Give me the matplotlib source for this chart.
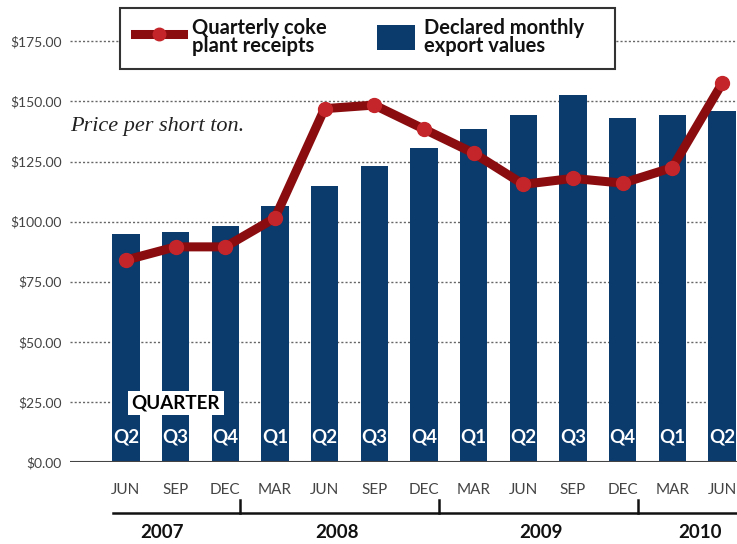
import matplotlib
matplotlib.use("Agg")
import matplotlib.pyplot as plt
from matplotlib.patches import Rectangle
from matplotlib.lines import Line2D
import matplotlib.transforms as mtransforms

# Data (price per short ton, $)
months = ["JUN", "SEP", "DEC", "MAR", "JUN", "SEP", "DEC",
          "MAR", "JUN", "SEP", "DEC", "MAR", "JUN"]
quarters = ["Q2", "Q3", "Q4", "Q1", "Q2", "Q3", "Q4",
            "Q1", "Q2", "Q3", "Q4", "Q1", "Q2"]
export_values = [95, 95.5, 98, 106.5, 115, 123, 130.5,
                 138.5, 144.5, 152.5, 143, 144.5, 146]
coke_receipts = [84, 89.5, 89.5, 101.5, 147, 148.5, 138.5,
                 128.5, 115.5, 118, 116, 122.5, 157.5]
years = ["2007", "2008", "2009", "2010"]
year_label_pos = [0.72, 4.25, 8.35, 11.55]
year_breaks = [2.3, 6.3, 10.3]
y_ticks = [0, 25, 50, 75, 100, 125, 150, 175]

navy = "#0b3a6c"
dark_red = "#8a0c0e"
marker_red = "#c4252a"
cond = ["Liberation Sans Narrow", "Lato", "DejaVu Sans"]

fig = plt.figure(figsize=(7.37, 5.44), dpi=100)
ax = fig.add_axes([70 / 737, 1 - 462 / 544, 1 - 70 / 737, 462 / 544])

x = list(range(len(months)))

# grid
for v in y_ticks[1:]:
    ax.axhline(v, color="#666666", lw=1.0, ls=(0, (1.5, 1.5)), zorder=0)
ax.axhline(0, color="#444444", lw=1.5, zorder=3)

ax.bar(x, export_values, width=0.55, color=navy, zorder=2)
ax.plot(x, coke_receipts, color=dark_red, lw=6.5, zorder=4,
        solid_joinstyle="round", solid_capstyle="round")
ax.plot(x, coke_receipts, ls="none", marker="o", ms=10,
        mfc=marker_red, mec=marker_red, zorder=5)

for i, q in enumerate(quarters):
    ax.text(i, 10.5, q, color="white", fontsize=13.5, fontweight="bold",
            ha="center", va="center", family=cond, zorder=6)

ax.text(1, 24.5, "QUARTER", color="black", fontsize=13.5, fontweight="bold",
        ha="center", va="center", family=cond, zorder=6,
        bbox=dict(boxstyle="square,pad=0.2", fc="white", ec="none"))

ax.text(-1.12, 139.5, "Price per short ton.", fontsize=16, style="italic",
        family=["Liberation Serif", "DejaVu Serif"], color="#222222",
        ha="left", va="center")

ax.set_xlim(-1.124, 12.3)
ax.set_ylim(0, 192.2)
ax.set_yticks(y_ticks)
ax.set_yticklabels(["$%.2f" % v for v in y_ticks], family=cond,
                   fontsize=10, color="#444444")
ax.set_xticks(x)
ax.set_xticklabels(months, family=cond, fontsize=11, color="#444444")
ax.tick_params(axis="both", length=0)
ax.tick_params(axis="y", pad=6)
ax.tick_params(axis="x", pad=15)
for s in ax.spines.values():
    s.set_visible(False)

# year bracket below the month labels
trans = mtransforms.blended_transform_factory(ax.transData, ax.transAxes)
ax.plot([-0.26, 12.3], [-0.1104, -0.1104], color="#111111", lw=1.8,
        transform=trans, clip_on=False)
for b in year_breaks:
    ax.plot([b, b], [-0.1104, -0.082], color="#111111", lw=1.8,
            transform=trans, clip_on=False)
for yr, xp in zip(years, year_label_pos):
    ax.text(xp, -0.152, yr, transform=trans, fontsize=13.5, fontweight="bold",
            family=cond, ha="center", va="center", color="#111111")

# legend box
fig.add_artist(Rectangle((120 / 737, 1 - 69 / 544), 495 / 737, 61 / 544,
                         transform=fig.transFigure, fc="white", ec="#333333",
                         lw=1.5, zorder=10))
fig.add_artist(Line2D([135 / 737, 183 / 737], [1 - 34 / 544, 1 - 34 / 544],
                      transform=fig.transFigure, color=dark_red, lw=6.5,
                      zorder=11))
fig.add_artist(Line2D([159 / 737], [1 - 34 / 544], transform=fig.transFigure,
                      marker="o", ms=9, mfc=marker_red, mec=marker_red,
                      zorder=12))
fig.text(192 / 737, 1 - 37 / 544, "Quarterly coke\nplant receipts",
         fontsize=14.5, fontweight="bold", family=cond, va="center",
         ha="left", linespacing=0.9, zorder=12, color="#111111")
fig.add_artist(Rectangle((377 / 737, 1 - 50 / 544), 38 / 737, 25 / 544,
                         transform=fig.transFigure, fc=navy, ec="none",
                         zorder=11))
fig.text(424 / 737, 1 - 37 / 544, "Declared monthly\nexport values",
         fontsize=14.5, fontweight="bold", family=cond, va="center",
         ha="left", linespacing=0.9, zorder=12, color="#111111")

fig.savefig("out.png", dpi=100, facecolor="white")
